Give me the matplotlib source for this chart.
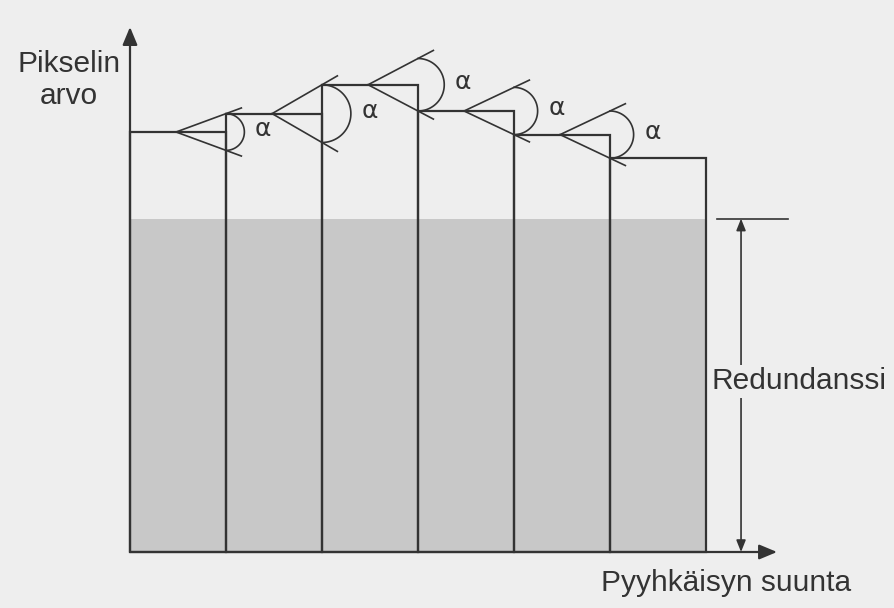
import numpy as np
import matplotlib.pyplot as plt

# pikselien arvot pyyhkäisysuunnassa
bar_values = [160, 167, 178, 168, 159, 150]
redundancy = 127
y_label = ["Pikselin", "arvo"]
x_label = "Pyyhkäisyn suunta"
red_label = "Redundanssi"
angle_label = "α"

paper = "#eeeeee"
ink = "#333333"
shade = "#c8c8c8"
font = ["Liberation Sans", "DejaVu Sans"]

fig = plt.figure(figsize=(8.94, 6.08), dpi=100, facecolor=paper)
ax = fig.add_axes([0, 0, 1, 1])
ax.set_facecolor(paper)
ax.set_axis_off()

# 1 x-yksikkö = 96 px, 1 y-yksikkö = 2.625 px
px_x = 96.0
px_y = 2.625
ax.set_xlim(-130 / px_x, (894 - 130) / px_x)
ax.set_ylim(-56 / px_y, 552 / px_y)

n = len(bar_values)
xs = np.arange(n)

# redundanssi (harmaa alue) ja pylväät
ax.bar(xs, [redundancy] * n, width=1, align="edge", color=shade,
       edgecolor="none", zorder=1)
ax.bar(xs, bar_values, width=1, align="edge", facecolor="none",
       edgecolor=ink, linewidth=1.6, zorder=3)

# akselit
ax.annotate("", xy=(0, 200), xytext=(0, 0),
            arrowprops=dict(arrowstyle="-|>,head_length=0.6,head_width=0.25",
                            mutation_scale=18, color=ink, lw=1.6,
                            shrinkA=0, shrinkB=0), zorder=4)
ax.annotate("", xy=(6.74, 0), xytext=(0, 0),
            arrowprops=dict(arrowstyle="-|>,head_length=0.6,head_width=0.25",
                            mutation_scale=18, color=ink, lw=1.6,
                            shrinkA=0, shrinkB=0), zorder=4)

# ennustuskulmat
for i in range(n - 1):
    top = bar_values[i]
    nxt = bar_values[i + 1]
    edge = i + 1
    vx = i + 0.48
    dy = abs(nxt - top)
    slope = dy / (edge - vx)
    L = 0.68
    ax.plot([vx, vx + L], [top, top + slope * L], color=ink, lw=1.2, zorder=4)
    ax.plot([vx, vx + L], [top, top - slope * L], color=ink, lw=1.2, zorder=4)
    r_px = dy * px_y
    t = np.linspace(-np.pi / 2, np.pi / 2, 60)
    ax.plot(edge + r_px * np.cos(t) / px_x, top + dy * np.sin(t),
            color=ink, lw=1.2, zorder=4)
    ax.text(edge + (r_px + 19) / px_x, top + 1, angle_label,
            ha="center", va="center", fontsize=18, color=ink, zorder=5)

# redundanssin mitta
red_x = 6.365
ax.plot([6.115, 6.854], [redundancy, redundancy], color=ink, lw=1.2)
ax.annotate("", xy=(red_x, redundancy), xytext=(red_x, 0),
            arrowprops=dict(arrowstyle="<|-|>,head_length=0.5,head_width=0.2",
                            mutation_scale=14, color=ink, lw=1.2,
                            shrinkA=0, shrinkB=0), zorder=4)
ax.text(6.0625, 65, red_label, ha="left", va="center", fontsize=21.5,
        family=font, color=ink, zorder=6,
        bbox=dict(boxstyle="square,pad=0.08", facecolor=paper,
                  edgecolor="none"))

# tekstit
ax.text(-0.635, 182.9, y_label[0], ha="center", va="baseline",
        fontsize=21.5, family=font, color=ink)
ax.text(-0.635, 170.7, y_label[1], ha="center", va="baseline",
        fontsize=21.5, family=font, color=ink)
ax.text(6.21, -14.9, x_label, ha="center", va="baseline",
        fontsize=21.5, family=font, color=ink)

fig.savefig("out.png", dpi=100, facecolor=paper)
